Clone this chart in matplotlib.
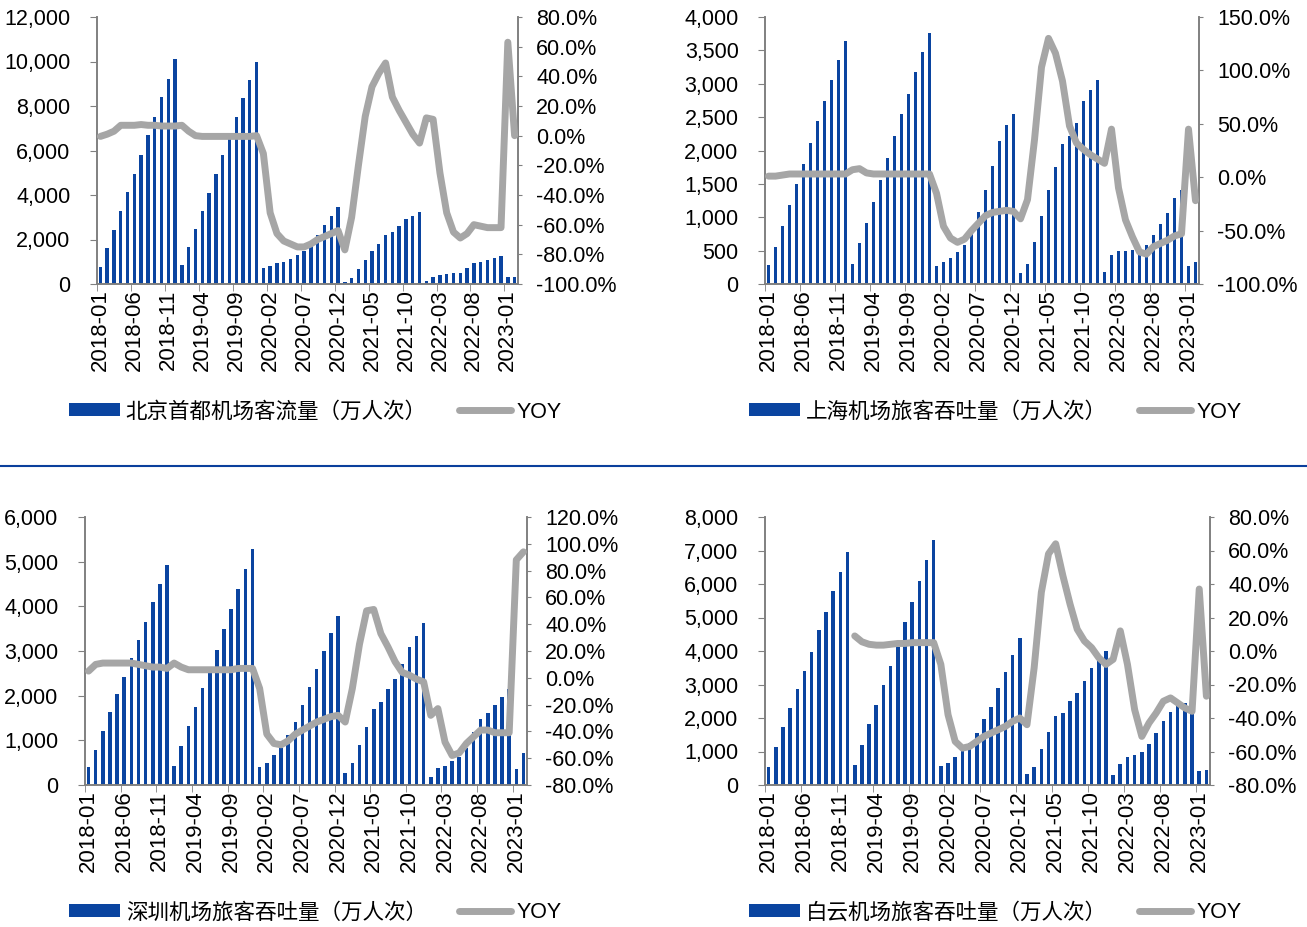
#!/usr/bin/env python3
"""Airport passenger throughput: cumulative monthly bars + YOY line, 4 panels"""

import numpy as np
import pandas as pd
import matplotlib
matplotlib.use("Agg")
import matplotlib.pyplot as plt
from matplotlib.patches import Patch
from matplotlib.lines import Line2D
from matplotlib.ticker import FuncFormatter, MultipleLocator, FixedLocator

plt.rcParams["font.family"] = ["Liberation Sans", "Noto Sans CJK SC"]

months = [str(p) for p in pd.period_range("2018-01", "2023-02", freq="M")]

# 北京首都机场
bj_bars = [780, 1600, 2420, 3280, 4120, 4940, 5790, 6690, 7510, 8410, 9230, 10090,
           850, 1670, 2480, 3280, 4100, 4930, 5790, 6610, 7510, 8380, 9190, 9980,
           730, 820, 930, 970, 1135, 1300, 1480, 1750, 2200, 2650, 3050, 3450,
           110, 270, 670, 1080, 1480, 1800, 2200, 2340, 2610, 2920, 3060, 3240,
           135, 330, 400, 450, 480, 510, 700, 930, 1000, 1080, 1150, 1260,
           300, 330]
bj_yoy = [-0.5, 1, 3, 7, 7, 7, 7.5, 7, 7, 6.5, 6.5, 6.5,
          7, 3, 0, -0.5, -0.5, -0.5, -0.5, -0.5, -0.5, -0.5, -0.5, 0,
          -12, -52, -66, -71, -73, -75, -75, -73, -70, -68, -66, -64,
          -77, -55, -20, 13, 33, 42, 49, 26, 17, 9, 1, -5,
          12, 11, -25, -52, -65, -69, -66, -60, -61, -62, -62, -62,
          63, 0]

# 上海机场
sh_bars = [284, 559, 868, 1182, 1496, 1796, 2114, 2439, 2739, 3063, 3352, 3641,
           299, 609, 917, 1232, 1556, 1881, 2215, 2544, 2853, 3177, 3476, 3766,
           274, 324, 394, 474, 584, 798, 1082, 1407, 1766, 2140, 2379, 2554,
           160, 295, 624, 1017, 1407, 1756, 2095, 2215, 2414, 2743, 2913, 3053,
           184, 429, 499, 499, 509, 534, 584, 733, 898, 1058, 1282, 1407,
           274, 324]
sh_yoy = [1, 1, 2, 3, 3, 3, 3, 3, 3, 3, 3, 3,
          7, 8, 4, 3, 3, 3, 3, 3, 3, 3, 3, 3,
          -15, -46, -57, -61, -58, -50, -43, -36, -33, -32, -31, -32,
          -39, -21, 35, 103, 130, 116, 90, 48, 32, 26, 21, 17,
          13, 45, -10, -40, -56, -70, -72, -65, -62, -59, -55, -53,
          45, -22]

# 深圳机场
sz_bars = [397, 784, 1217, 1629, 2039, 2427, 2846, 3250, 3653, 4094, 4505, 4931,
           433, 874, 1322, 1741, 2167, 2577, 3025, 3497, 3938, 4386, 4834, 5290,
           410, 500, 672, 822, 1121, 1419, 1793, 2190, 2593, 3010, 3400, 3790,
           262, 486, 896, 1307, 1704, 1867, 2152, 2369, 2712, 3100, 3346, 3624,
           187, 374, 426, 538, 635, 830, 1181, 1472, 1620, 1793, 1980, 2145,
           352, 724]
sz_yoy = [5, 10, 11, 11, 11, 11, 11, 10, 9, 8, 8, 7,
          11, 8, 6, 6, 6, 6, 6, 6, 6, 7, 7, 7,
          -8, -42, -49, -50, -47, -42, -39, -36, -33, -31, -29, -28,
          -33, -8, 25, 50, 51, 33, 23, 12, 4, 2, -1, -3,
          -28, -23, -48, -58, -56, -49, -44, -39, -39, -41, -41, -41,
          88, 94]

# 白云机场
by_bars = [547, 1127, 1724, 2310, 2869, 3416, 3984, 4612, 5162, 5778, 6365, 6963,
           598, 1195, 1814, 2391, 2988, 3556, 4134, 4851, 5448, 6076, 6703, 7322,
           568, 648, 846, 1067, 1246, 1545, 1972, 2340, 2889, 3386, 3885, 4384,
           329, 547, 1067, 1575, 2062, 2142, 2510, 2740, 3108, 3487, 3756, 4014,
           299, 628, 847, 906, 986, 1234, 1554, 1903, 2182, 2421, 2461, 2480,
           418, 448]
by_yoy = [np.nan] * 12 + [
          9, 5.5, 4, 3.5, 3.5, 4, 4.5, 4.5, 5, 5, 5, 5,
          -8, -38, -54, -58, -57, -54, -51, -49, -47, -45, -42, -40,
          -44, -10, 35, 58, 64, 45, 28, 13, 6, 2, -4, -8,
          -5, 12, -8, -35, -51, -43, -37, -30, -28, -31, -34, -36,
          37, -27]

BLUE = "#0a44a0"
GRAY = "#a6a6a6"
SPINE = "#808080"
W, H = 1307, 927


def draw_panel(fig, rect, bars, yoy, lmax, lstep, rmin, rmax, rstep, label, leg_xy):
    ax = fig.add_axes(rect)
    x = np.arange(len(months))
    ax.bar(x, bars, width=0.5, color=BLUE, zorder=2)
    ax.set_xlim(-0.5, len(months) - 0.5)
    ax.set_ylim(0, lmax)
    ax.yaxis.set_major_locator(MultipleLocator(lstep))
    ax.yaxis.set_major_formatter(FuncFormatter(lambda v, _: f"{v:,.0f}"))

    ax.set_xticks(x[::5])
    ax.set_xticklabels(months[::5], rotation=90)
    ax.xaxis.set_minor_locator(FixedLocator(np.arange(-0.5, len(months), 5)))
    ax.tick_params(axis="x", which="major", length=0, pad=4, labelsize=16)
    ax.tick_params(axis="x", which="minor", length=5, color=SPINE)
    ax.tick_params(axis="y", length=5, color=SPINE, pad=14, labelsize=15.5)

    ax2 = ax.twinx()
    ax2.plot(x, yoy, color=GRAY, lw=5, solid_joinstyle="round",
             solid_capstyle="round", zorder=3)
    ax2.set_ylim(rmin, rmax)
    ax2.yaxis.set_major_locator(MultipleLocator(rstep))
    ax2.yaxis.set_major_formatter(FuncFormatter(lambda v, _: f"{v:.1f}%"))
    ax2.tick_params(axis="y", length=3, color=SPINE, pad=10, labelsize=15.5)

    for a in (ax, ax2):
        a.spines["top"].set_visible(False)
        for s in ("left", "right", "bottom"):
            a.spines[s].set_color(SPINE)
            a.spines[s].set_linewidth(1.2)

    handles = [Patch(facecolor=BLUE), Line2D([], [], color=GRAY, lw=5, solid_capstyle="round")]
    fig.legend(handles, [label, "YOY"], loc="center left",
               bbox_to_anchor=(leg_xy[0] / W, 1 - leg_xy[1] / H),
               ncol=2, frameon=False, fontsize=15.5, handlelength=2.4,
               handletextpad=0.25, columnspacing=1.5, borderpad=0, handleheight=0.55)


def main():
    fig = plt.figure(figsize=(W / 100, H / 100), dpi=100)

    draw_panel(fig, [97 / W, 1 - 284 / H, 421 / W, 267 / H], bj_bars, bj_yoy,
               12000, 2000, -100, 80, 20, "北京首都机场客流量（万人次）", (58, 412))
    draw_panel(fig, [765 / W, 1 - 284 / H, 434 / W, 267 / H], sh_bars, sh_yoy,
               4000, 500, -100, 150, 50, "上海机场旅客吞吐量（万人次）", (738, 412))
    draw_panel(fig, [85 / W, 1 - 785 / H, 442 / W, 268 / H], sz_bars, sz_yoy,
               6000, 1000, -80, 120, 20, "深圳机场旅客吞吐量（万人次）", (58, 913))
    draw_panel(fig, [765 / W, 1 - 785 / H, 445 / W, 268 / H], by_bars, by_yoy,
               8000, 1000, -80, 80, 20, "白云机场旅客吞吐量（万人次）", (738, 913))

    fig.add_artist(Line2D([0, 1], [1 - 466 / H, 1 - 466 / H], transform=fig.transFigure,
                          color="#0a3f9c", lw=1.5))

    fig.savefig("out.png", dpi=100)


if __name__ == "__main__":
    main()
